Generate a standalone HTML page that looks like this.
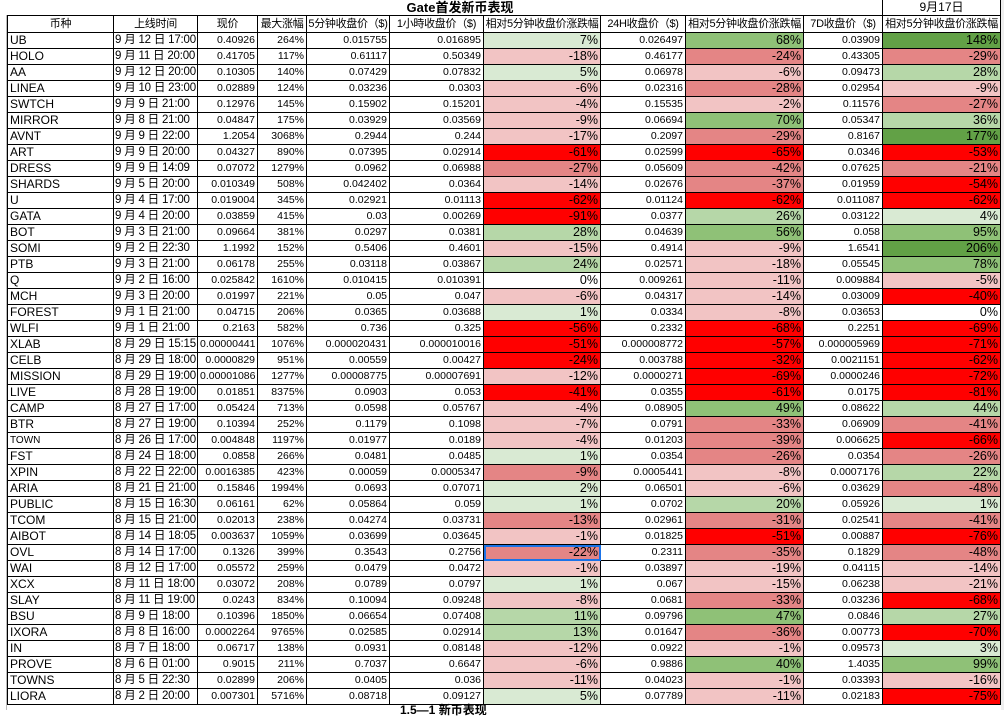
<!DOCTYPE html>
<html><head><meta charset="utf-8"><style>
body{margin:0;width:1004px;height:710px;background:#fff;overflow:hidden;position:relative;font-family:"Liberation Sans","Noto Sans CJK SC",sans-serif;}
.title{position:absolute;left:360px;top:0;width:200px;text-align:center;font-weight:bold;font-size:13px;line-height:15px;}
.date{position:absolute;left:882px;top:0;width:117px;height:15px;border-left:1px solid #000;border-right:1px solid #000;text-align:center;font-size:12px;line-height:15px;}
.gut{position:absolute;left:6px;top:15px;width:1px;height:695px;background:#bbb;}
table{position:absolute;left:7px;top:15px;width:993px;border-collapse:collapse;table-layout:fixed;}
td{border:1px solid #000;padding:0 2px;height:15px;line-height:15px;font-size:10.5px;white-space:nowrap;overflow:hidden;text-align:right;}
tr.h td{height:16px;font-size:11px;text-align:center;padding:0;letter-spacing:-0.3px;}
td.n{text-align:left;font-size:12px;}
td.t{text-align:left;font-size:11.5px;letter-spacing:-0.2px;padding:0 1px;}
td.pc{font-size:12.5px;}
.a{background:#d9ead3}.b{background:#b6d7a8}.c{background:#8fc177}.d{background:#62a146}.p{background:#f2c4c4}.m{background:#e48585}.r{background:#ff0000}
.right{position:absolute;left:1001px;top:0;width:3px;height:710px;background:#eee;}
.bot{position:absolute;left:400px;top:704px;font-size:12px;font-weight:bold;line-height:12px;}
</style></head><body>
<div class="title">Gate首发新币表现</div>
<div class="date">9月17日</div>
<div class="gut"></div>
<table>
<colgroup><col style="width:106px"><col style="width:84px"><col style="width:60px"><col style="width:49px"><col style="width:83px"><col style="width:94px"><col style="width:117px"><col style="width:85px"><col style="width:118px"><col style="width:79px"><col style="width:118px"></colgroup>
<tr class="h"><td>币种</td><td>上线时间</td><td>现价</td><td>最大涨幅</td><td>5分钟收盘价（$)</td><td>1小時收盘价（$)</td><td>相对5分钟收盘价涨跌幅</td><td>24H收盘价（$)</td><td>相对5分钟收盘价涨跌幅</td><td>7D收盘价（$)</td><td>相对5分钟收盘价涨跌幅</td></tr>
<tr><td class="n">UB</td><td class="t">9 月 12 日 17:00</td><td>0.40926</td><td>264%</td><td>0.015755</td><td>0.016895</td><td class="pc a">7%</td><td>0.026497</td><td class="pc c">68%</td><td>0.03909</td><td class="pc d">148%</td></tr>
<tr><td class="n">HOLO</td><td class="t">9 月 11 日 20:00</td><td>0.41705</td><td>117%</td><td>0.61117</td><td>0.50349</td><td class="pc p">-18%</td><td>0.46177</td><td class="pc m">-24%</td><td>0.43305</td><td class="pc m">-29%</td></tr>
<tr><td class="n">AA</td><td class="t">9 月 12 日 20:00</td><td>0.10305</td><td>140%</td><td>0.07429</td><td>0.07832</td><td class="pc a">5%</td><td>0.06978</td><td class="pc p">-6%</td><td>0.09473</td><td class="pc b">28%</td></tr>
<tr><td class="n">LINEA</td><td class="t">9 月 10 日 23:00</td><td>0.02889</td><td>124%</td><td>0.03236</td><td>0.0303</td><td class="pc p">-6%</td><td>0.02316</td><td class="pc m">-28%</td><td>0.02954</td><td class="pc p">-9%</td></tr>
<tr><td class="n">SWTCH</td><td class="t">9 月 9 日 21:00</td><td>0.12976</td><td>145%</td><td>0.15902</td><td>0.15201</td><td class="pc p">-4%</td><td>0.15535</td><td class="pc p">-2%</td><td>0.11576</td><td class="pc m">-27%</td></tr>
<tr><td class="n">MIRROR</td><td class="t">9 月 8 日 21:00</td><td>0.04847</td><td>175%</td><td>0.03929</td><td>0.03569</td><td class="pc p">-9%</td><td>0.06694</td><td class="pc c">70%</td><td>0.05347</td><td class="pc b">36%</td></tr>
<tr><td class="n">AVNT</td><td class="t">9 月 9 日 22:00</td><td>1.2054</td><td>3068%</td><td>0.2944</td><td>0.244</td><td class="pc p">-17%</td><td>0.2097</td><td class="pc m">-29%</td><td>0.8167</td><td class="pc d">177%</td></tr>
<tr><td class="n">ART</td><td class="t">9 月 9 日 20:00</td><td>0.04327</td><td>890%</td><td>0.07395</td><td>0.02914</td><td class="pc r">-61%</td><td>0.02599</td><td class="pc r">-65%</td><td>0.0346</td><td class="pc r">-53%</td></tr>
<tr><td class="n">DRESS</td><td class="t">9 月 9 日 14:09</td><td>0.07072</td><td>1279%</td><td>0.0962</td><td>0.06988</td><td class="pc m">-27%</td><td>0.05609</td><td class="pc m">-42%</td><td>0.07625</td><td class="pc m">-21%</td></tr>
<tr><td class="n">SHARDS</td><td class="t">9 月 5 日 20:00</td><td>0.010349</td><td>508%</td><td>0.042402</td><td>0.0364</td><td class="pc p">-14%</td><td>0.02676</td><td class="pc m">-37%</td><td>0.01959</td><td class="pc r">-54%</td></tr>
<tr><td class="n">U</td><td class="t">9 月 4 日 17:00</td><td>0.019004</td><td>345%</td><td>0.02921</td><td>0.01113</td><td class="pc r">-62%</td><td>0.01124</td><td class="pc r">-62%</td><td>0.011087</td><td class="pc r">-62%</td></tr>
<tr><td class="n">GATA</td><td class="t">9 月 4 日 20:00</td><td>0.03859</td><td>415%</td><td>0.03</td><td>0.00269</td><td class="pc r">-91%</td><td>0.0377</td><td class="pc b">26%</td><td>0.03122</td><td class="pc a">4%</td></tr>
<tr><td class="n">BOT</td><td class="t">9 月 3 日 21:00</td><td>0.09664</td><td>381%</td><td>0.0297</td><td>0.0381</td><td class="pc b">28%</td><td>0.04639</td><td class="pc c">56%</td><td>0.058</td><td class="pc c">95%</td></tr>
<tr><td class="n">SOMI</td><td class="t">9 月 2 日 22:30</td><td>1.1992</td><td>152%</td><td>0.5406</td><td>0.4601</td><td class="pc p">-15%</td><td>0.4914</td><td class="pc p">-9%</td><td>1.6541</td><td class="pc d">206%</td></tr>
<tr><td class="n">PTB</td><td class="t">9 月 3 日 21:00</td><td>0.06178</td><td>255%</td><td>0.03118</td><td>0.03867</td><td class="pc b">24%</td><td>0.02571</td><td class="pc p">-18%</td><td>0.05545</td><td class="pc c">78%</td></tr>
<tr><td class="n">Q</td><td class="t">9 月 2 日 16:00</td><td>0.025842</td><td>1610%</td><td>0.010415</td><td>0.010391</td><td class="pc">0%</td><td>0.009261</td><td class="pc p">-11%</td><td>0.009884</td><td class="pc p">-5%</td></tr>
<tr><td class="n">MCH</td><td class="t">9 月 3 日 20:00</td><td>0.01997</td><td>221%</td><td>0.05</td><td>0.047</td><td class="pc p">-6%</td><td>0.04317</td><td class="pc p">-14%</td><td>0.03009</td><td class="pc r">-40%</td></tr>
<tr><td class="n">FOREST</td><td class="t">9 月 1 日 21:00</td><td>0.04715</td><td>206%</td><td>0.0365</td><td>0.03688</td><td class="pc a">1%</td><td>0.0334</td><td class="pc p">-8%</td><td>0.03653</td><td class="pc">0%</td></tr>
<tr><td class="n">WLFI</td><td class="t">9 月 1 日 21:00</td><td>0.2163</td><td>582%</td><td>0.736</td><td>0.325</td><td class="pc r">-56%</td><td>0.2332</td><td class="pc r">-68%</td><td>0.2251</td><td class="pc r">-69%</td></tr>
<tr><td class="n">XLAB</td><td class="t">8 月 29 日 15:15</td><td>0.00000441</td><td>1076%</td><td>0.000020431</td><td>0.000010016</td><td class="pc r">-51%</td><td>0.000008772</td><td class="pc r">-57%</td><td>0.000005969</td><td class="pc r">-71%</td></tr>
<tr><td class="n">CELB</td><td class="t">8 月 29 日 18:00</td><td>0.0000829</td><td>951%</td><td>0.00559</td><td>0.00427</td><td class="pc r">-24%</td><td>0.003788</td><td class="pc r">-32%</td><td>0.0021151</td><td class="pc r">-62%</td></tr>
<tr><td class="n">MISSION</td><td class="t">8 月 29 日 19:00</td><td>0.00001086</td><td>1277%</td><td>0.00008775</td><td>0.00007691</td><td class="pc p">-12%</td><td>0.0000271</td><td class="pc r">-69%</td><td>0.0000246</td><td class="pc r">-72%</td></tr>
<tr><td class="n">LIVE</td><td class="t">8 月 28 日 19:00</td><td>0.01851</td><td>8375%</td><td>0.0903</td><td>0.053</td><td class="pc r">-41%</td><td>0.0355</td><td class="pc r">-61%</td><td>0.0175</td><td class="pc r">-81%</td></tr>
<tr><td class="n">CAMP</td><td class="t">8 月 27 日 17:00</td><td>0.05424</td><td>713%</td><td>0.0598</td><td>0.05767</td><td class="pc p">-4%</td><td>0.08905</td><td class="pc c">49%</td><td>0.08622</td><td class="pc b">44%</td></tr>
<tr><td class="n">BTR</td><td class="t">8 月 27 日 19:00</td><td>0.10394</td><td>252%</td><td>0.1179</td><td>0.1098</td><td class="pc p">-7%</td><td>0.0791</td><td class="pc m">-33%</td><td>0.06909</td><td class="pc m">-41%</td></tr>
<tr><td class="n" style="font-size:10px">TOWN</td><td class="t">8 月 26 日 17:00</td><td>0.004848</td><td>1197%</td><td>0.01977</td><td>0.0189</td><td class="pc p">-4%</td><td>0.01203</td><td class="pc m">-39%</td><td>0.006625</td><td class="pc r">-66%</td></tr>
<tr><td class="n">FST</td><td class="t">8 月 24 日 18:00</td><td>0.0858</td><td>266%</td><td>0.0481</td><td>0.0485</td><td class="pc a">1%</td><td>0.0354</td><td class="pc m">-26%</td><td>0.0354</td><td class="pc m">-26%</td></tr>
<tr><td class="n">XPIN</td><td class="t">8 月 22 日 22:00</td><td>0.0016385</td><td>423%</td><td>0.00059</td><td>0.0005347</td><td class="pc m">-9%</td><td>0.0005441</td><td class="pc p">-8%</td><td>0.0007176</td><td class="pc b">22%</td></tr>
<tr><td class="n">ARIA</td><td class="t">8 月 21 日 21:00</td><td>0.15846</td><td>1994%</td><td>0.0693</td><td>0.07071</td><td class="pc a">2%</td><td>0.06501</td><td class="pc p">-6%</td><td>0.03629</td><td class="pc m">-48%</td></tr>
<tr><td class="n">PUBLIC</td><td class="t">8 月 15 日 16:30</td><td>0.06161</td><td>62%</td><td>0.05864</td><td>0.059</td><td class="pc a">1%</td><td>0.0702</td><td class="pc b">20%</td><td>0.05926</td><td class="pc a">1%</td></tr>
<tr><td class="n">TCOM</td><td class="t">8 月 15 日 21:00</td><td>0.02013</td><td>238%</td><td>0.04274</td><td>0.03731</td><td class="pc m">-13%</td><td>0.02961</td><td class="pc m">-31%</td><td>0.02541</td><td class="pc m">-41%</td></tr>
<tr><td class="n">AIBOT</td><td class="t">8 月 14 日 18:05</td><td>0.003637</td><td>1059%</td><td>0.03699</td><td>0.03645</td><td class="pc p">-1%</td><td>0.01825</td><td class="pc r">-51%</td><td>0.00887</td><td class="pc r">-76%</td></tr>
<tr><td class="n">OVL</td><td class="t">8 月 14 日 17:00</td><td>0.1326</td><td>399%</td><td>0.3543</td><td>0.2756</td><td class="pc m" style="outline:2px solid #1a73e8;outline-offset:-2px">-22%</td><td>0.2311</td><td class="pc m">-35%</td><td>0.1829</td><td class="pc m">-48%</td></tr>
<tr><td class="n">WAI</td><td class="t">8 月 12 日 17:00</td><td>0.05572</td><td>259%</td><td>0.0479</td><td>0.0472</td><td class="pc p">-1%</td><td>0.03897</td><td class="pc p">-19%</td><td>0.04115</td><td class="pc p">-14%</td></tr>
<tr><td class="n">XCX</td><td class="t">8 月 11 日 18:00</td><td>0.03072</td><td>208%</td><td>0.0789</td><td>0.0797</td><td class="pc a">1%</td><td>0.067</td><td class="pc p">-15%</td><td>0.06238</td><td class="pc p">-21%</td></tr>
<tr><td class="n">SLAY</td><td class="t">8 月 11 日 19:00</td><td>0.0243</td><td>834%</td><td>0.10094</td><td>0.09248</td><td class="pc p">-8%</td><td>0.0681</td><td class="pc m">-33%</td><td>0.03236</td><td class="pc r">-68%</td></tr>
<tr><td class="n">BSU</td><td class="t">8 月 9 日 18:00</td><td>0.10396</td><td>1850%</td><td>0.06654</td><td>0.07408</td><td class="pc b">11%</td><td>0.09796</td><td class="pc c">47%</td><td>0.0846</td><td class="pc b">27%</td></tr>
<tr><td class="n">IXORA</td><td class="t">8 月 8 日 16:00</td><td>0.0002264</td><td>9765%</td><td>0.02585</td><td>0.02914</td><td class="pc b">13%</td><td>0.01647</td><td class="pc m">-36%</td><td>0.00773</td><td class="pc r">-70%</td></tr>
<tr><td class="n">IN</td><td class="t">8 月 7 日 18:00</td><td>0.06717</td><td>138%</td><td>0.0931</td><td>0.08148</td><td class="pc p">-12%</td><td>0.0922</td><td class="pc p">-1%</td><td>0.09573</td><td class="pc a">3%</td></tr>
<tr><td class="n">PROVE</td><td class="t">8 月 6 日 01:00</td><td>0.9015</td><td>211%</td><td>0.7037</td><td>0.6647</td><td class="pc p">-6%</td><td>0.9886</td><td class="pc c">40%</td><td>1.4035</td><td class="pc c">99%</td></tr>
<tr><td class="n">TOWNS</td><td class="t">8 月 5 日 22:30</td><td>0.02899</td><td>206%</td><td>0.0405</td><td>0.036</td><td class="pc p">-11%</td><td>0.04023</td><td class="pc p">-1%</td><td>0.03393</td><td class="pc p">-16%</td></tr>
<tr><td class="n">LIORA</td><td class="t">8 月 2 日 20:00</td><td>0.007301</td><td>5716%</td><td>0.08718</td><td>0.09127</td><td class="pc a">5%</td><td>0.07789</td><td class="pc p">-11%</td><td>0.02183</td><td class="pc r">-75%</td></tr>
</table>
<div class="right"></div>
<div class="bot">1.5—1 新币表现</div>
</body></html>
